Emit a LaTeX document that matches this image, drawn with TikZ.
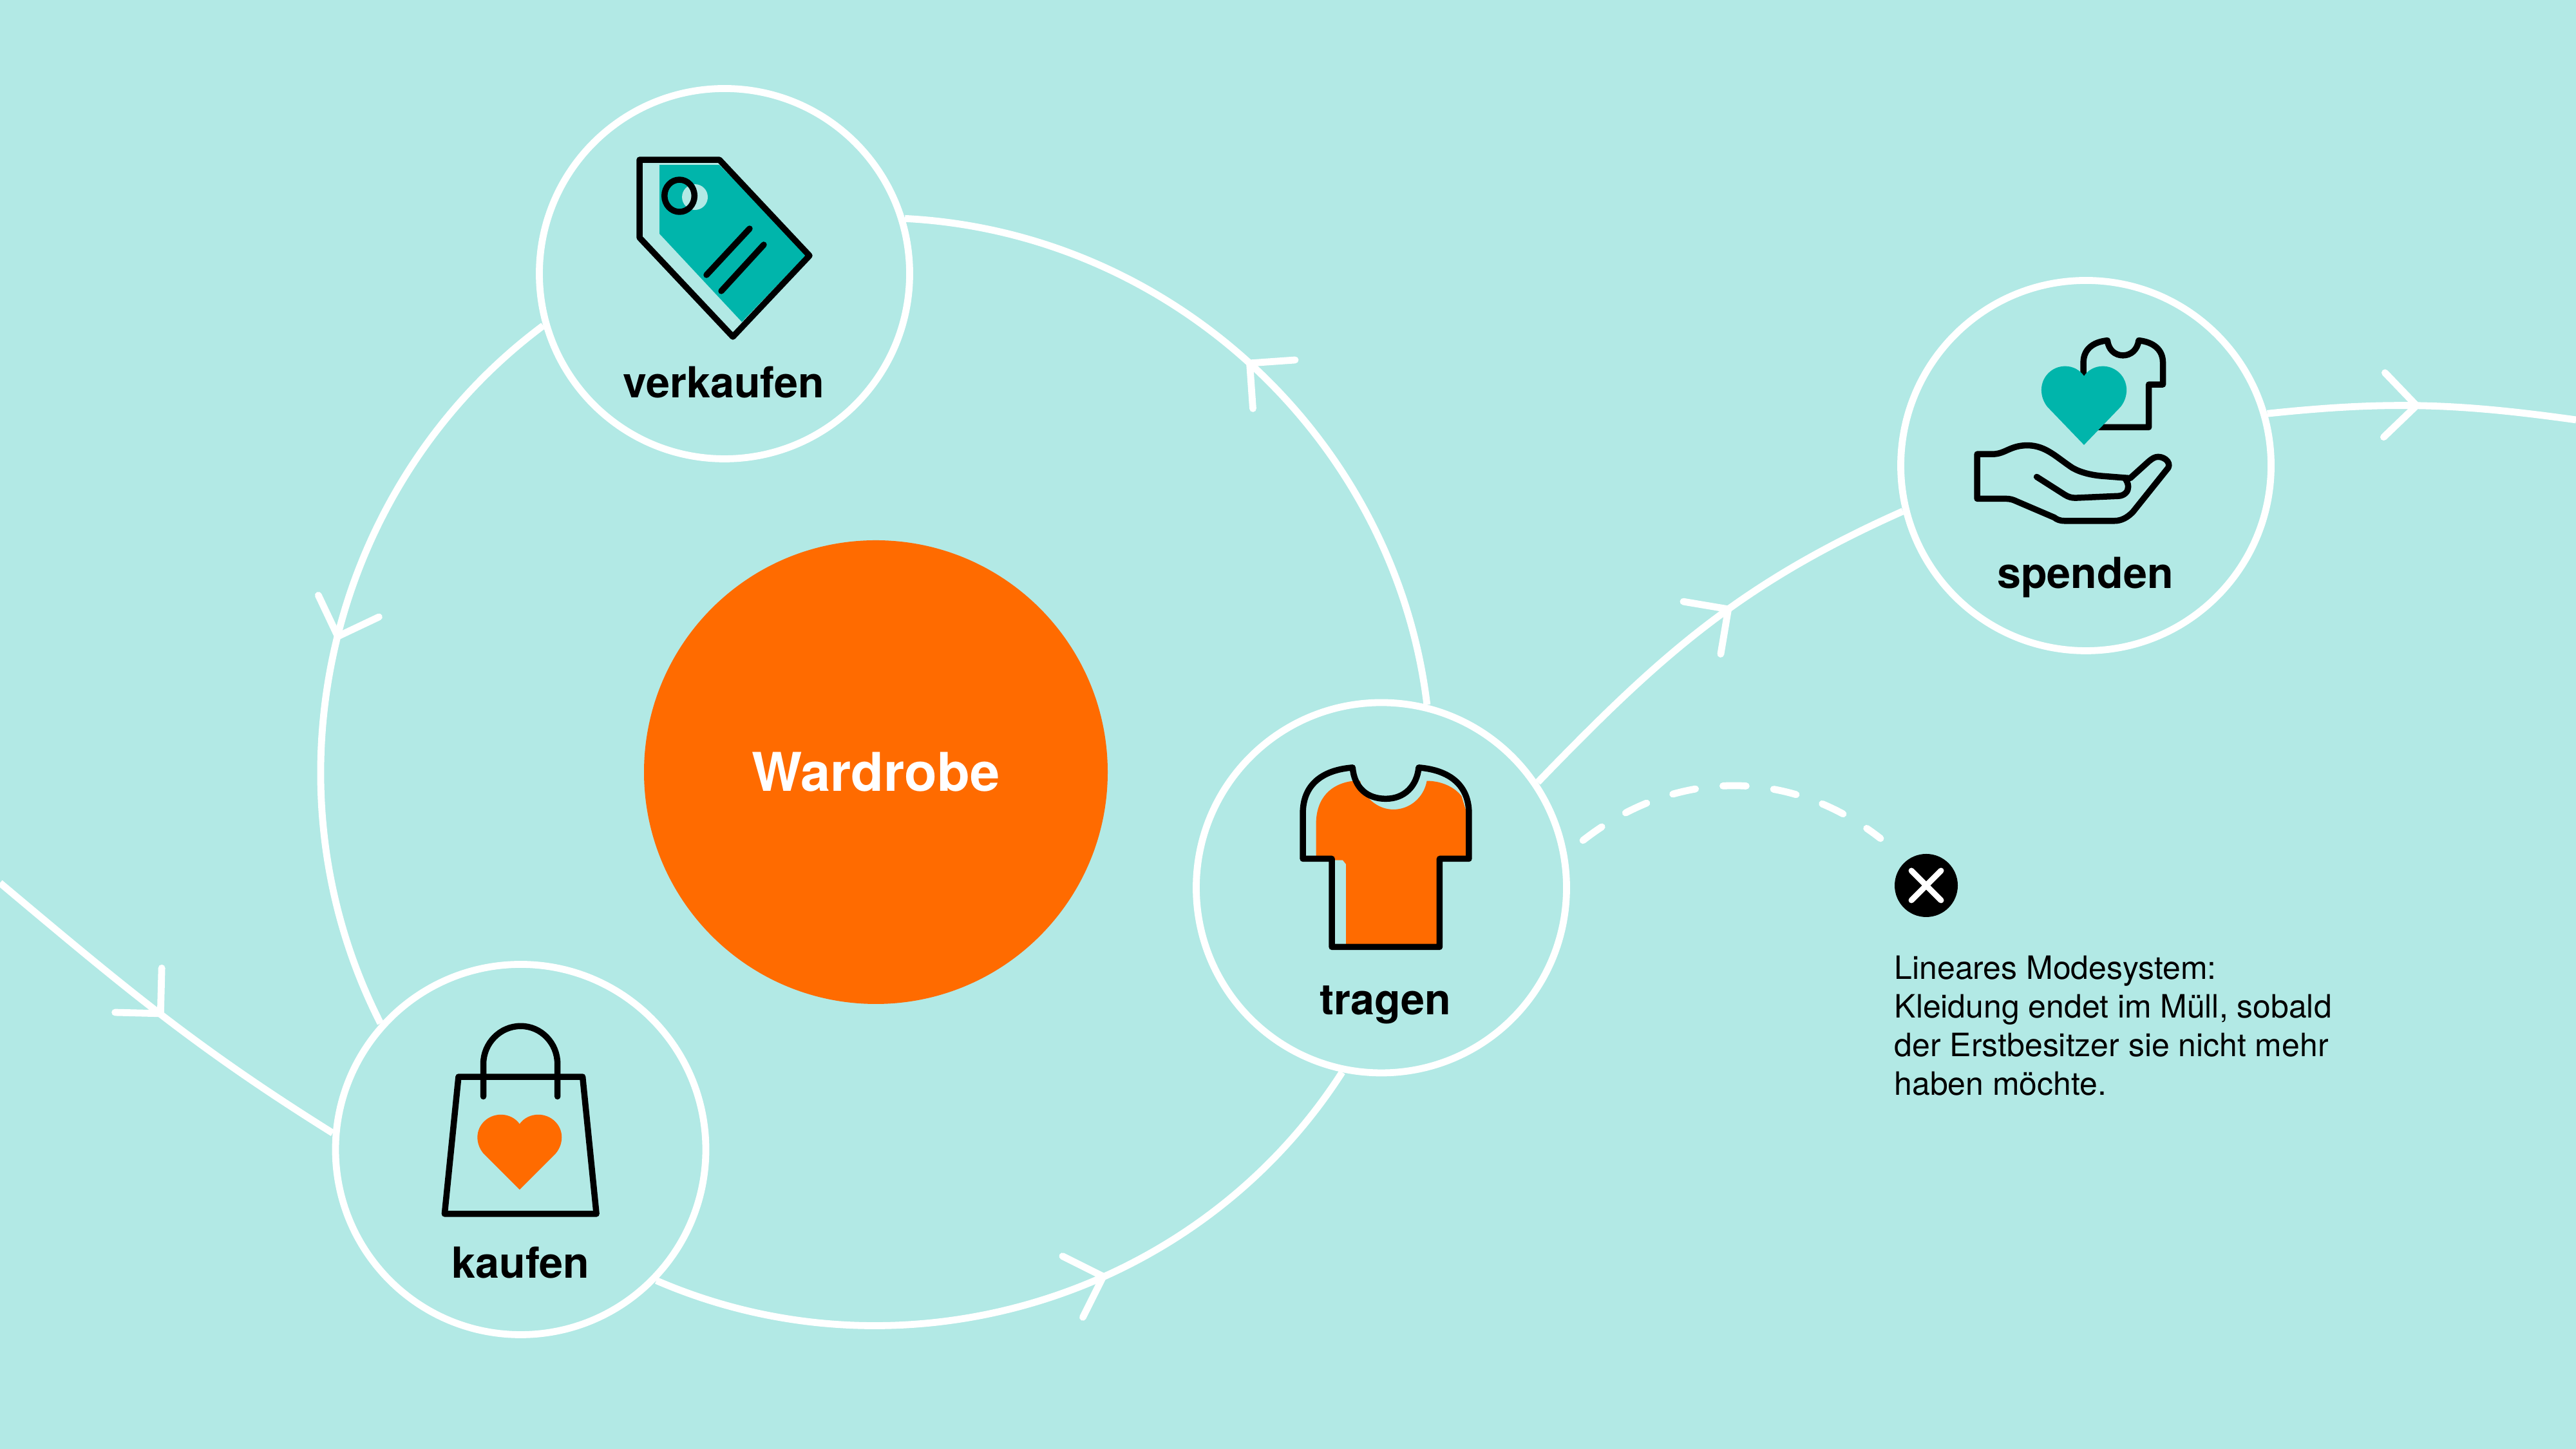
\documentclass[tikz,border=0pt]{standalone}
\usepackage{fontspec}
\setmainfont{TeX Gyre Heros}
\usetikzlibrary{arrows.meta,decorations.markings}
\definecolor{mint}{RGB}{178,233,229}
\definecolor{teal}{RGB}{0,181,171}
\definecolor{signal}{RGB}{255,107,0}
\tikzset{
  stage/.style={circle,draw=white,line width=.108cm,minimum size=5.75cm,inner sep=0pt},
  stagelabel/.style={anchor=base,inner sep=0pt,font=\bfseries\fontsize{18.9}{22}\selectfont},
  flow/.style={draw=white,line width=.108cm},
  barb/.style 2 args={decoration={markings,mark=at position #1 with {\pgftransformrotate{#2}\arrow{Straight Barb[length=.5cm,width=1cm,round]}}},postaction={decorate}},
  icon/.style={draw=black,line width=.095cm,line join=round,line cap=round},
  iconscope/.style={shift={(#1.center)},x=.01cm,y=-.01cm},
  heart/.pic={
    \fill (0,0) .. controls (6.5,-9) and (17,-14.5) .. (29,-14.5) .. controls (49,-14.5) and (65.5,1) .. (65.5,20.7)
      .. controls (65.5,30) and (62,39) .. (56,46) -- (0,102) -- (-56,46) .. controls (-62,39) and (-65.5,30) .. (-65.5,20.7)
      .. controls (-65.5,1) and (-49,-14.5) .. (-29,-14.5) .. controls (-17,-14.5) and (-6.5,-9) .. (0,0) -- cycle;
  }
}
\begin{document}
\begin{tikzpicture}
  \useasboundingbox[fill=mint] (0,0) rectangle (40,22.5);

  \node[circle,fill=signal,minimum size=7.2cm,inner sep=0pt,text=white,font=\bfseries\fontsize{23.6}{28}\selectfont] (wardrobe) at (13.6,10.51) {Wardrobe};

  \node[stage] (verkaufen) at (11.25,18.25) {};
  \node[stage] (tragen) at (21.45,8.715) {};
  \node[stage] (spenden) at (32.39,15.27) {};
  \node[stage] (kaufen) at (8.085,4.65) {};

  \node[stagelabel] (verkaufenlabel) at ([shift={(-.01,-1.93)}]verkaufen.center) {verkaufen};
  \node[stagelabel] (tragenlabel) at ([shift={(.06,-1.97)}]tragen.center) {tragen};
  \node[stagelabel] (spendenlabel) at ([shift={(-.01,-1.91)}]spenden.center) {spenden};
  \node[stagelabel] (kaufenlabel) at ([shift={(0,-2)}]kaufen.center) {kaufen};

  \draw[flow,barb={.595}{-6}] (kaufen.-44.4) to[out=336.6,in=237.3,looseness=.96] (tragen.-102.3);
  \draw[flow,barb={.512}{1}] (tragen.76.4) to[out=96.9,in=357.1,looseness=.96] (verkaufen.17.4);
  \draw[flow,barb={.493}{-6}] (verkaufen.196.4) to[out=216.7,in=117,looseness=.96] (kaufen.138.1);

  \coordinate (linein) at (0,8.79);
  \coordinate (lineout) at (40,15.98);
  \draw[flow,barb={.505}{-9}] (linein) to[out=-40,in=148] (kaufen.175.2);
  \draw[flow,barb={.57}{0}] (tragen.34.6) to[out=46,in=204] (spenden.194.2);
  \draw[flow,barb={.494}{0}] (spenden.16.5) to[out=6,in=172] (lineout);

  \node[circle,fill=black,minimum size=.98cm,inner sep=0pt] (stop) at (29.91,8.75) {};
  \draw[white,line width=.09cm,line cap=round] ([shift={(-.23,-.23)}]stop.center) -- ([shift={(.23,.23)}]stop.center);
  \draw[white,line width=.09cm,line cap=round] ([shift={(-.23,.23)}]stop.center) -- ([shift={(.23,-.23)}]stop.center);

  \coordinate (lossfrom) at (24.58,9.45);
  \coordinate (lossto) at (29.2,9.48);
  \draw[white,line width=.108cm,line cap=round,dash pattern=on .36cm off .43cm] (lossfrom) to[out=38,in=142] (lossto);

  \node[anchor=north west,inner sep=0pt,align=left,font=\fontsize{14.2}{17.07}\selectfont] (note) at (29.41,7.67)
    {Lineares Modesystem:\\Kleidung endet im Müll, sobald\\der Erstbesitzer sie nicht mehr\\haben möchte.};

  % Preisschild
  \begin{scope}[iconscope=verkaufen]
    \fill[teal] (-101,-169) -- (-8,-169) -- (129,-31) -- (27,75) -- (-101,-62) -- cycle;
    \fill[mint] (-46,-119) circle (20);
    \draw[icon] (-132,-177) -- (-8,-177) -- (132,-28) -- (13,98) -- (-132,-56) -- cycle;
    \draw[icon] (-70,-121) ellipse [x radius=23.3,y radius=25];
    \draw[icon] (-28,2) -- (39,-70);
    \draw[icon] (-5,27) -- (61,-45);
  \end{scope}

  % Shirt
  \begin{scope}[iconscope=tragen]
    \fill[signal] (-101.5,-49) -- (-101.5,-98.8) .. controls (-101.5,-140) and (-78,-162) .. (-43.4,-166)
      -- (-33,-166) .. controls (-28,-140) and (-6,-121.6) .. (18.7,-121.6) .. controls (44,-121.6) and (66,-140) .. (70.6,-166)
      .. controls (95,-166) and (115,-155) .. (124.5,-142.3) -- (132.8,-115.4) -- (132.8,-47) -- (87,-47) -- (87,90)
      -- (-55,90) -- (-55,-36.6) -- (-60,-42.8) -- (-79,-42.8) -- (-79,-49) -- cycle;
    \draw[icon] (-44.7,-186.7) .. controls (-42,-155) and (-22,-138.2) .. (6.7,-138.2) .. controls (36,-138.2) and (55,-158) .. (58,-186.7)
      .. controls (105,-183) and (136,-160) .. (136,-115.5) -- (136,-45) -- (90.5,-45) -- (90.5,92) -- (-77,92) -- (-77,-45) -- (-122,-45)
      -- (-122,-115.5) .. controls (-122,-160) and (-92,-183) .. (-44.7,-186.7) -- cycle;
  \end{scope}

  % Hand
  \begin{scope}[iconscope=spenden]
    \draw[icon] (15,-59.6) -- (97.7,-59.6) -- (97.7,-126) -- (119.6,-126) -- (119.6,-160)
      .. controls (119.6,-180) and (105,-192) .. (82,-194.4) .. controls (80,-180) and (70,-171.2) .. (57.5,-171.2)
      .. controls (45,-171.2) and (35,-180) .. (33.4,-194.4) .. controls (10,-192) and (-3.9,-180) .. (-3.9,-160) -- (-3.9,-135);
    \pic[teal,yscale=1.05,xscale=1.01] at (-3,-139.2) {heart};
    \draw[icon] (-169,-17.8) -- (-145,-17.8) .. controls (-125,-18) and (-118,-31.4) .. (-91,-31.4)
      .. controls (-62,-31.4) and (-45,-12) .. (-20.5,3.8) .. controls (-8,11) and (10,15) .. (25,16.2) -- (68.7,19.6)
      -- (97.7,-6.6) .. controls (103,-11) and (107,-13.6) .. (112.2,-13.6) .. controls (124,-13.6) and (135,-2) .. (125,7)
      -- (72.8,72.2) .. controls (65,80) and (56,85.9) .. (43.8,85.9) -- (-32.9,85.9) .. controls (-40,85.9) and (-45,84) .. (-49.5,80.5)
      -- (-107.6,55.6) .. controls (-113,53) and (-118,51.5) .. (-124,51.5) -- (-169,51.5) -- cycle;
    \draw[icon] (-76.5,17.5) -- (-32.9,45.3) .. controls (-27,49) and (-22,50.2) .. (-16.3,50.2) -- (50,47.3)
      .. controls (60,47) and (66,40) .. (65.7,32.8) .. controls (65.5,27) and (63,23) .. (60.4,19.6);
  \end{scope}

  % Tasche
  \begin{scope}[iconscope=kaufen]
    \draw[icon] (-96.6,-113) -- (96.2,-113) -- (117.7,100) -- (-118.2,100) -- cycle;
    \draw[icon] (-58,-82.4) -- (-58,-133) .. controls (-58,-165) and (-32,-191.8) .. (0,-191.8)
      .. controls (32,-191.8) and (57.2,-165) .. (57.2,-133) -- (57.2,-82.4);
    \pic[signal] at (-1.7,-39.7) {heart};
  \end{scope}
\end{tikzpicture}
\end{document}
